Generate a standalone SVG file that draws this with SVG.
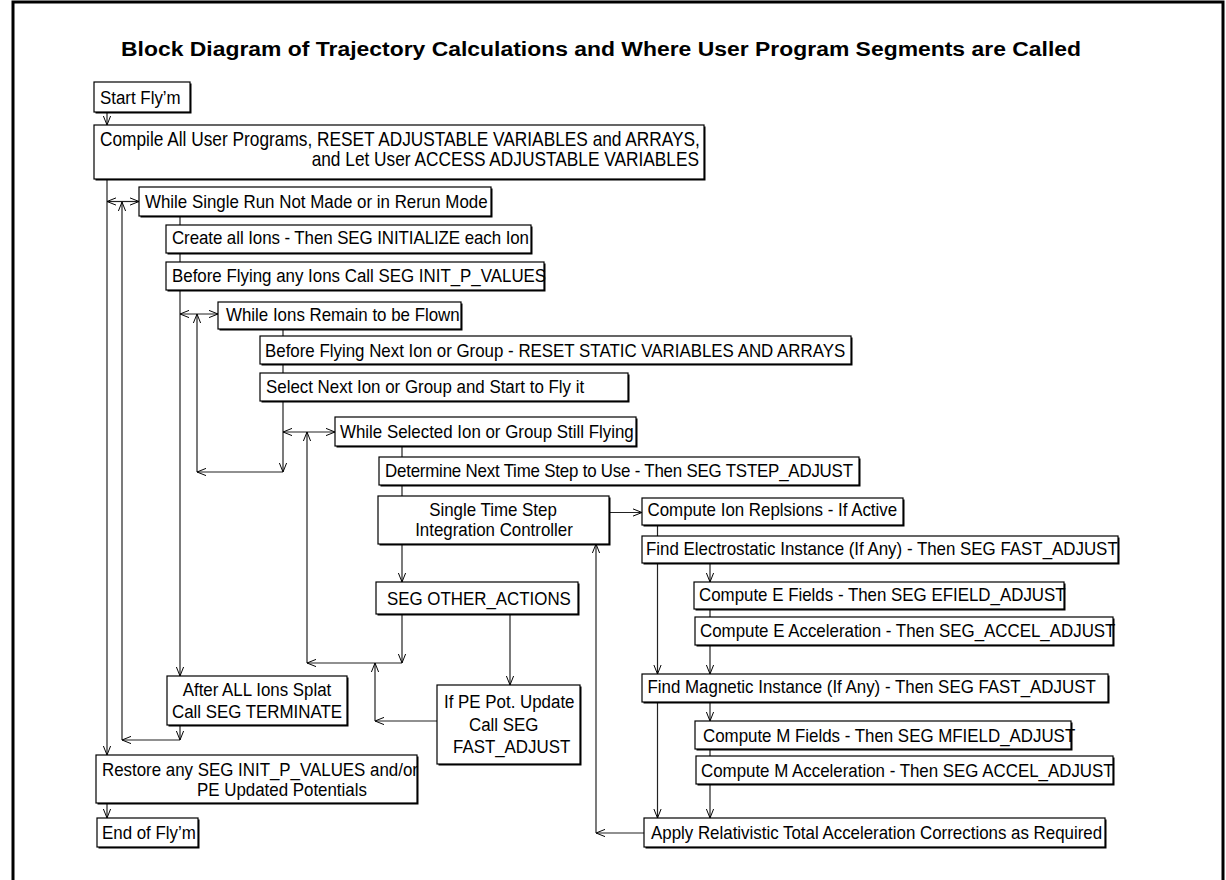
<svg xmlns="http://www.w3.org/2000/svg" width="1226" height="880" viewBox="0 0 1226 880">
<style>
.bg{fill:#fff}
.frame{stroke:#000;stroke-width:3;fill:none}
.sh{fill:#000}
.box{fill:#fff;stroke:#000;stroke-width:1.2}
.t{font-family:"Liberation Sans",Arial,Helvetica,sans-serif;font-size:16.9px;fill:#000}
.big{font-size:17.3px}
.m{text-anchor:middle}
.e{text-anchor:end}
.title{font-family:"Liberation Sans",Arial,Helvetica,sans-serif;font-size:18px;font-weight:bold;fill:#000}
.c{fill:none;stroke:#222;stroke-width:1.2}
.a{marker-end:url(#arr)}
.d{marker-start:url(#arr);marker-end:url(#arr)}
</style>
<defs>
<marker id="arr" viewBox="0 0 10 10" refX="10" refY="5" markerWidth="9" markerHeight="9" markerUnits="userSpaceOnUse" orient="auto-start-reverse">
<path d="M0,1 L10,5 L0,9" fill="none" stroke="#000" stroke-width="1.1"/>
</marker>
</defs>
<rect class="bg" x="0" y="0" width="1226" height="880"/>
<path class="frame" d="M13,880 V2 H1223 V880"/>
<text class="title" transform="translate(121,56) scale(1,1.12)" textLength="960" lengthAdjust="spacingAndGlyphs">Block Diagram of Trajectory Calculations and Where User Program Segments are Called</text>

<g id="connectors">
<path class="c a" d="M107,112 V125"/>
<path class="c a" d="M107,179 V755"/>
<path class="c d" d="M107,201.5 H139"/>
<path class="c a" d="M122,740 V202"/>
<path class="c a" d="M180,740 H122"/>
<path class="c a" d="M180,725 V740"/>
<path class="c a" d="M180,216 V676"/>
<path class="c d" d="M180,314 H218"/>
<path class="c a" d="M197,472 V314"/>
<path class="c a" d="M283,472 H197"/>
<path class="c a" d="M283,329 V472"/>
<path class="c d" d="M283,432 H335"/>
<path class="c a" d="M307,663 V432"/>
<path class="c a" d="M402,663 H307"/>
<path class="c" d="M402,446 V496"/>
<path class="c a" d="M402,544 V582"/>
<path class="c a" d="M402,614 V663"/>
<path class="c a" d="M510,614 V685"/>
<path class="c a" d="M437,721 H375"/>
<path class="c a" d="M375,721 V663"/>
<path class="c a" d="M609,512.5 H642"/>
<path class="c" d="M657.5,525 V536"/>
<path class="c a" d="M657.5,563 V674"/>
<path class="c a" d="M710,563 V582"/>
<path class="c" d="M710,609 V617"/>
<path class="c a" d="M710,645 V674"/>
<path class="c a" d="M710,702 V721"/>
<path class="c" d="M710,749 V756"/>
<path class="c a" d="M710,784 V818"/>
<path class="c a" d="M657.5,702 V818"/>
<path class="c a" d="M644,833 H596"/>
<path class="c a" d="M596,833 V544"/>
<path class="c a" d="M107,803 V818"/>
</g>

<g id="start"><rect class="sh" x="95.5" y="83.5" width="96" height="30"/><rect class="box" x="94" y="82" width="96" height="30"/><text class="t" transform="translate(100,104) scale(1,1.13)">Start Fly’m</text></g>
<g id="compile"><rect class="sh" x="95.5" y="126.5" width="610" height="54"/><rect class="box" x="94" y="125" width="610" height="54"/><text class="t big" transform="translate(100,146) scale(1,1.13)">Compile All User Programs, RESET ADJUSTABLE VARIABLES and ARRAYS,</text><text class="t big e" transform="translate(699,166) scale(1,1.13)">and Let User ACCESS ADJUSTABLE VARIABLES</text></g>
<g id="whileSingle"><rect class="sh" x="140.5" y="188.5" width="352" height="29"/><rect class="box" x="139" y="187" width="352" height="29"/><text class="t" transform="translate(145,208) scale(1,1.13)">While Single Run Not Made or in Rerun Mode</text></g>
<g id="createIons"><rect class="sh" x="167.5" y="226.5" width="365" height="28"/><rect class="box" x="166" y="225" width="365" height="28"/><text class="t" transform="translate(172,244) scale(1,1.13)" textLength="357">Create all Ions - Then SEG INITIALIZE each Ion</text></g>
<g id="beforeAny"><rect class="sh" x="167.5" y="263.5" width="378" height="28"/><rect class="box" x="166" y="262" width="378" height="28"/><text class="t" transform="translate(172,282) scale(1,1.13)">Before Flying any Ions Call SEG INIT_P_VALUES</text></g>
<g id="whileIons"><rect class="sh" x="219.5" y="303.5" width="243" height="27"/><rect class="box" x="218" y="302" width="243" height="27"/><text class="t" transform="translate(226,321) scale(1,1.13)">While Ions Remain to be Flown</text></g>
<g id="beforeNext"><rect class="sh" x="261.5" y="337.5" width="591" height="28"/><rect class="box" x="260" y="336" width="591" height="28"/><text class="t" transform="translate(265,357) scale(1,1.13)">Before Flying Next Ion or Group - RESET STATIC VARIABLES AND ARRAYS</text></g>
<g id="selectNext"><rect class="sh" x="261.5" y="374.5" width="368" height="28"/><rect class="box" x="260" y="373" width="368" height="28"/><text class="t" transform="translate(266,393) scale(1,1.13)">Select Next Ion or Group and Start to Fly it</text></g>
<g id="whileSelected"><rect class="sh" x="336.5" y="418.5" width="301" height="29"/><rect class="box" x="335" y="417" width="301" height="29"/><text class="t" transform="translate(340,438) scale(1,1.13)">While Selected Ion or Group Still Flying</text></g>
<g id="determine"><rect class="sh" x="380.5" y="458.5" width="480" height="28"/><rect class="box" x="379" y="457" width="480" height="28"/><text class="t" transform="translate(385,477) scale(1,1.13)" textLength="468">Determine Next Time Step to Use - Then SEG TSTEP_ADJUST</text></g>
<g id="singleTime"><rect class="sh" x="379.5" y="497.5" width="231" height="48"/><rect class="box" x="378" y="496" width="231" height="48"/><text class="t m" transform="translate(493,516) scale(1,1.13)">Single Time Step</text><text class="t m" transform="translate(494,535.5) scale(1,1.13)">Integration Controller</text></g>
<g id="segOther"><rect class="sh" x="377.5" y="583.5" width="202" height="32"/><rect class="box" x="376" y="582" width="202" height="32"/><text class="t" transform="translate(387,605) scale(1,1.13)">SEG OTHER_ACTIONS</text></g>
<g id="ifPE"><rect class="sh" x="438.5" y="686.5" width="143" height="79"/><rect class="box" x="437" y="685" width="143" height="79"/><text class="t" transform="translate(444,708) scale(1,1.13)">If PE Pot. Update</text><text class="t" transform="translate(469,731) scale(1,1.13)">Call SEG</text><text class="t" transform="translate(453,753) scale(1,1.13)">FAST_ADJUST</text></g>
<g id="afterAll"><rect class="sh" x="168.5" y="677.5" width="180" height="49"/><rect class="box" x="167" y="676" width="180" height="49"/><text class="t m" transform="translate(257,696) scale(1,1.13)">After ALL Ions Splat</text><text class="t m" transform="translate(257,717.5) scale(1,1.13)">Call SEG TERMINATE</text></g>
<g id="restore"><rect class="sh" x="97.5" y="756.5" width="321" height="48"/><rect class="box" x="96" y="755" width="321" height="48"/><text class="t" transform="translate(102,776) scale(1,1.13)">Restore any SEG INIT_P_VALUES and/or</text><text class="t" transform="translate(197,795.5) scale(1,1.13)">PE Updated Potentials</text></g>
<g id="end"><rect class="sh" x="98.5" y="819.5" width="101" height="29"/><rect class="box" x="97" y="818" width="101" height="29"/><text class="t" transform="translate(102,838.5) scale(1,1.13)">End of Fly’m</text></g>
<g id="computeIon"><rect class="sh" x="643.5" y="499.5" width="261" height="27"/><rect class="box" x="642" y="498" width="261" height="27"/><text class="t" transform="translate(647.5,515.5) scale(1,1.13)">Compute Ion Replsions - If Active</text></g>
<g id="findE"><rect class="sh" x="643.5" y="537.5" width="476" height="27"/><rect class="box" x="642" y="536" width="476" height="27"/><text class="t" transform="translate(646,554.5) scale(1,1.13)">Find Electrostatic Instance (If Any) - Then SEG FAST_ADJUST</text></g>
<g id="eFields"><rect class="sh" x="695.5" y="583.5" width="370" height="27"/><rect class="box" x="694" y="582" width="370" height="27"/><text class="t" transform="translate(699,601) scale(1,1.13)">Compute E Fields - Then SEG EFIELD_ADJUST</text></g>
<g id="eAccel"><rect class="sh" x="696.5" y="618.5" width="418" height="28"/><rect class="box" x="695" y="617" width="418" height="28"/><text class="t" transform="translate(700,636.5) scale(1,1.13)">Compute E Acceleration - Then SEG_ACCEL_ADJUST</text></g>
<g id="findM"><rect class="sh" x="643.5" y="675.5" width="466" height="28"/><rect class="box" x="642" y="674" width="466" height="28"/><text class="t" transform="translate(647.5,692.5) scale(1,1.13)">Find Magnetic Instance (If Any) - Then SEG FAST_ADJUST</text></g>
<g id="mFields"><rect class="sh" x="696.5" y="722.5" width="376" height="28"/><rect class="box" x="695" y="721" width="376" height="28"/><text class="t" transform="translate(703,742) scale(1,1.13)">Compute M Fields - Then SEG MFIELD_ADJUST</text></g>
<g id="mAccel"><rect class="sh" x="697.5" y="757.5" width="417" height="28"/><rect class="box" x="696" y="756" width="417" height="28"/><text class="t" transform="translate(701,777) scale(1,1.13)">Compute M Acceleration - Then SEG ACCEL_ADJUST</text></g>
<g id="apply"><rect class="sh" x="645.5" y="819.5" width="461" height="29"/><rect class="box" x="644" y="818" width="461" height="29"/><text class="t" transform="translate(651,838.5) scale(1,1.13)">Apply Relativistic Total Acceleration Corrections as Required</text></g>
</svg>
